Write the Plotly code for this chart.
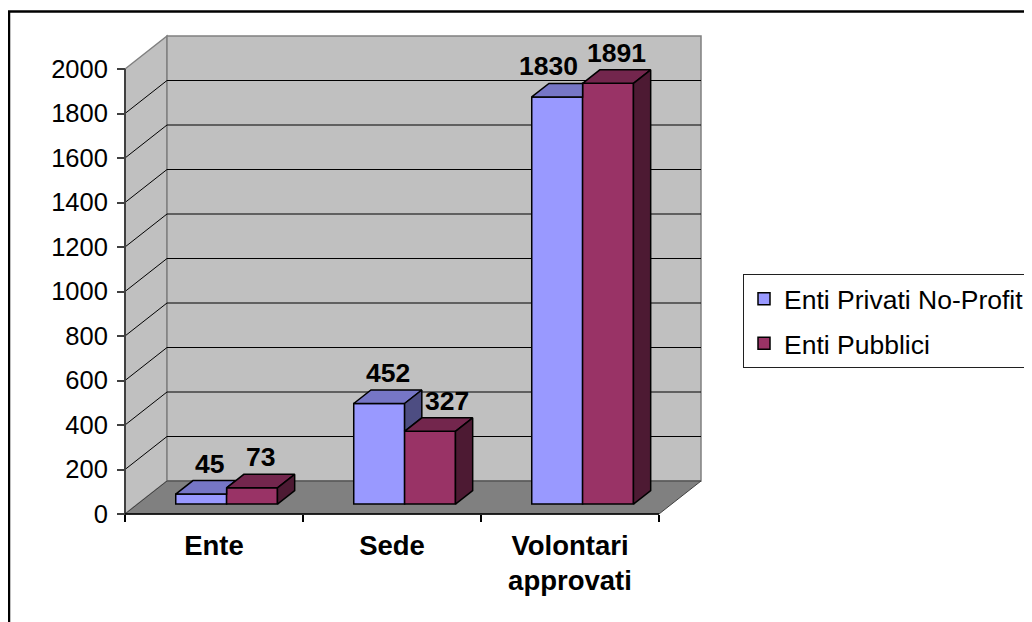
import plotly.graph_objects as go

# ---------------- data ----------------
categories = ["Ente", "Sede", "Volontari<br>approvati"]
series_names = ["Enti Privati No-Profit", "Enti Pubblici"]
privati = [45, 452, 1830]
pubblici = [73, 327, 1891]
y_ticks = [0, 200, 400, 600, 800, 1000, 1200, 1400, 1600, 1800, 2000]

# ---------------- style / geometry ----------------
PAGE_OFF = 8          # the page body margin that offsets the figure
W, H = 1032 - PAGE_OFF, 622 - PAGE_OFF
AX_LEFT_PX = 125 - PAGE_OFF   # figure pixel x of the front-left axis
AX_ZERO_PX = 514 - PAGE_OFF   # figure pixel y of value 0 on the front plane
CAT_PX = 178          # pixels per category
VAL_PX = 445 / 2000   # pixels per value unit
DEPTH_PX = (42, 33)   # oblique depth offset of the floor (right, up)
F0, F1 = 0.30, 0.71   # bar depth span as fraction of floor depth
GAP = 1.5             # excel gap width
BW = 1.0 / (2 + GAP)  # width of one bar in category units

FONT = "Liberation Sans, Arial, sans-serif"
FS_TICK = 25.5
FS_CAT = 27.5
FS_LABEL = 26.5
FS_LEGEND = 26.5
colors_front = ["#9999FF", "#993366"]
colors_top = ["#7676C6", "#73264D"]
colors_side = ["#4D4D82", "#4D1A33"]
WALL = "#C0C0C0"
FLOOR = "#808080"
EDGE = "#808080"

x_lo = -0.5 - AX_LEFT_PX / CAT_PX
x_hi = x_lo + W / CAT_PX
y_lo = -(H - AX_ZERO_PX) / VAL_PX
y_hi = AX_ZERO_PX / VAL_PX
DX = DEPTH_PX[0] / CAT_PX
DY = DEPTH_PX[1] / VAL_PX
n = len(categories)
xL, xR = -0.5, n - 0.5
ymax = y_ticks[-1]
base = F0 * DY
ddx = (F1 - F0) * DX
ddy = (F1 - F0) * DY


def path(pts):
    return "M " + " L ".join(f"{x},{y}" for x, y in pts) + " Z"


shapes = []
# side wall
shapes.append(dict(type="path", xref="x", yref="y", layer="below",
                   path=path([(xL, 0), (xL, ymax), (xL + DX, ymax + DY), (xL + DX, DY)]),
                   fillcolor=WALL, line=dict(color=EDGE, width=1.5)))
# back wall
shapes.append(dict(type="path", xref="x", yref="y", layer="below",
                   path=path([(xL + DX, DY), (xL + DX, ymax + DY), (xR + DX, ymax + DY), (xR + DX, DY)]),
                   fillcolor=WALL, line=dict(color=EDGE, width=1.5)))
# floor
shapes.append(dict(type="path", xref="x", yref="y", layer="below",
                   path=path([(xL, 0), (xR, 0), (xR + DX, DY), (xL + DX, DY)]),
                   fillcolor=FLOOR, line=dict(color="#404040", width=1)))
# grid lines
for v in y_ticks[1:-1]:
    shapes.append(dict(type="path", xref="x", yref="y", layer="below",
                       path=f"M {xL},{v} L {xL + DX},{v + DY} L {xR + DX},{v + DY}",
                       line=dict(color="black", width=1)))
# axis lines
shapes.append(dict(type="line", xref="x", yref="y", layer="below",
                   x0=xL, y0=0, x1=xL, y1=ymax, line=dict(color="#404040", width=2)))
shapes.append(dict(type="line", xref="x", yref="y", layer="below",
                   x0=xL, y0=0, x1=xR, y1=0, line=dict(color="black", width=1.5)))
# outer chart border
shapes.append(dict(type="rect", xref="paper", yref="paper", layer="above",
                   x0=1 / W, y0=-0.2, x1=1.2, y1=1 - 3.5 / H,
                   line=dict(color="black", width=2.5)))

fig = go.Figure()
series = [privati, pubblici]
for s, vals in enumerate(series):
    xs = [c + F0 * DX - BW + s * BW + BW / 2 for c in range(n)]
    fig.add_trace(go.Bar(
        x=xs, y=vals, base=base, width=BW, name=series_names[s],
        legendgroup=f"g{s}",
        marker=dict(color=colors_front[s], line=dict(color="black", width=1.5)),
        hoverinfo="skip"))


def face(pts, color):
    xs = [p[0] for p in pts] + [pts[0][0]]
    ys = [p[1] for p in pts] + [pts[0][1]]
    fig.add_trace(go.Scatter(x=xs, y=ys, mode="lines", fill="toself",
                             fillcolor=color, line=dict(color="black", width=1.5),
                             showlegend=False, hoverinfo="skip"))


annotations = []
label_nudge = {(2, 0): -17, (1, 1): 8}
for c in range(n):
    hb, hr = privati[c], pubblici[c]
    xl = c + F0 * DX - BW
    xm = xl + BW
    xr = xm + BW
    # blue top (visible part)
    if hb >= hr:
        face([(xl, hb + base), (xm, hb + base), (xm + ddx, hb + base + ddy), (xl + ddx, hb + base + ddy)], colors_top[0])
        # blue side above red
        face([(xm, hr + base), (xm + ddx, hr + base + ddy), (xm + ddx, hb + base + ddy), (xm, hb + base)], colors_side[0])
    else:
        cap = min(hr, hb + ddy)
        xint = xm + max(0.0, hb + ddy - hr) * DX / DY
        face([(xl, hb + base), (xm, hb + base), (xm, cap + base), (xint, hb + ddy + base), (xl + ddx, hb + ddy + base)], colors_top[0])
    # red top and side
    face([(xm, hr + base), (xr, hr + base), (xr + ddx, hr + base + ddy), (xm + ddx, hr + base + ddy)], colors_top[1])
    face([(xr, base), (xr + ddx, base + ddy), (xr + ddx, hr + base + ddy), (xr, hr + base)], colors_side[1])
    # data labels
    for s, (x0, h) in enumerate([(xl, hb), (xm, hr)]):
        annotations.append(dict(
            x=x0 + BW / 2 + ddx / 2, y=h + base + ddy, xref="x", yref="y",
            text=f"<b>{h}</b>", showarrow=False, yanchor="bottom",
            xshift=label_nudge.get((c, s), 0), yshift=0,
            font=dict(family=FONT, size=FS_LABEL, color="black")))

fig.update_layout(
    width=W, height=H, template="none",
    paper_bgcolor="white", plot_bgcolor="white",
    margin=dict(l=0, r=0, t=0, b=0, autoexpand=False),
    barmode="overlay", showlegend=True,
    shapes=shapes, annotations=annotations,
    font=dict(family=FONT, size=FS_TICK, color="black"),
    legend=dict(x=(743 - PAGE_OFF) / W, y=1 - (274 - PAGE_OFF) / H,
                xanchor="left", yanchor="top",
                bordercolor="#202020", borderwidth=1, bgcolor="white",
                font=dict(family=FONT, size=FS_LEGEND, color="black"),
                tracegroupgap=7, traceorder="grouped"),
    xaxis=dict(range=[x_lo, x_hi], anchor="free", position=(H - AX_ZERO_PX) / H,
               tickvals=list(range(n)), ticktext=categories,
               tickfont=dict(family=FONT, size=FS_CAT, color="black", weight="bold"),
               ticks="", showgrid=False, zeroline=False, showline=False,
               ticklabelstandoff=12,
               minor=dict(tickvals=[xL + i for i in range(n + 1)], ticks="outside",
                          ticklen=7, tickcolor="black", tickwidth=1.5, showgrid=False)),
    yaxis=dict(range=[y_lo, y_hi], anchor="free", position=AX_LEFT_PX / W,
               tickvals=y_ticks, ticks="outside", ticklen=8, tickcolor="#404040",
               tickwidth=1.5, tickfont=dict(family=FONT, size=FS_TICK, color="black"),
               showgrid=False, zeroline=False, showline=False, ticklabelstandoff=4),
)

fig.write_html("out.html")
